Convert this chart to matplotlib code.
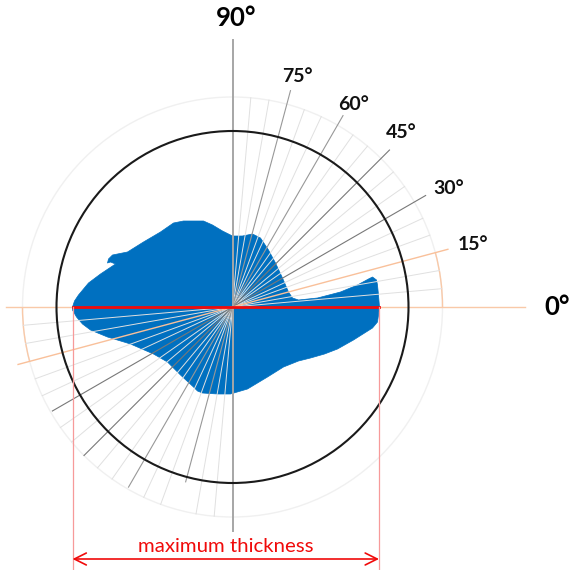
import numpy as np
import matplotlib
matplotlib.use("Agg")
import matplotlib.pyplot as plt
from matplotlib.patches import Polygon, Arc, Circle

plt.rcParams['font.family'] = ['Lato', 'DejaVu Sans']

# Section outline in px, relative to the polar centre (x right, y up)
outline_x = [-160, -158, -154, -144, -132, -117, -122, -125, -124, -120, -115, -105, -89, -72, -59, -49, -39, -29, -20, -10,
             0, 10, 20, 28, 36, 43, 50, 56, 60, 66, 85, 108, 125, 136, 140, 144, 145, 146, 147,
             146, 145, 140, 121, 105, 92, 78, 66, 51, 35, 15, -2, -15, -30, -35, -39, -52, -65, -79, -102, -125, -142, -150, -156, -160]
outline_y = [0, 6, 12, 24, 33, 43, 45, 44, 48, 52, 53, 55, 65, 75, 84, 86, 86, 86, 82, 76,
             71, 71, 73, 69, 57, 44, 29, 15, 9, 7, 9, 15, 22, 28, 30, 27, 22, 12, 0,
             -8, -15, -21, -33, -42, -47, -51, -54, -60, -70, -82, -87, -87, -86, -84, -80, -68, -55, -47, -37, -30, -23, -17, -10, -3]

minor_angles = [5, 10, 20, 25, 35, 40, 50, 55, 65, 70, 80, 85]
labelled_angles = [30, 45, 60, 75]
labelled_greys = ['#787878', '#787878', '#989898', '#989898']
labelled_far_len = [223, 222, 221, 224]
labelled_near_len = [208, 210, 208, 181]
outer_r = 210
inner_r = 176
thick_left, thick_right = -160, 146.5
labels = ['75°', '60°', '45°', '30°', '15°']
label_x = [65, 121, 169, 216, 241]
label_y = [231, 203, 175, 119, 62]

fig = plt.figure(figsize=(5.7, 5.7), dpi=100)
ax = fig.add_axes([0, 0, 1, 1])
ax.set_xlim(-232.5, 337.5)
ax.set_ylim(-263, 307)
ax.axis('off')

def pol(angle, r):
    a = np.deg2rad(angle)
    return r * np.cos(a), r * np.sin(a)

ax.add_patch(Circle((0, 0), outer_r, fill=False, ec='#f0f0f0', lw=1.0, zorder=1))
ax.add_patch(Arc((0, 0), 2*outer_r, 2*outer_r, theta1=0, theta2=15, ec='#f9c9a8', lw=1.0, zorder=2))
ax.add_patch(Arc((0, 0), 2*outer_r, 2*outer_r, theta1=180, theta2=195, ec='#f9c9a8', lw=1.0, zorder=2))
ax.add_patch(Polygon(np.column_stack([outline_x, outline_y]), closed=True, fc='#0070c0', ec='#0070c0', lw=0.5,
                     joinstyle='round', zorder=3))

for ang in minor_angles:
    for a in (ang, ang + 180):
        x, y = pol(a, outer_r)
        ax.plot([0, x], [0, y], color='#e0e0e0', lw=0.7, zorder=4)
for ang, col, far, near in zip(labelled_angles, labelled_greys, labelled_far_len, labelled_near_len):
    x, y = pol(ang, far)
    ax.plot([0, x], [0, y], color=col, lw=0.8, zorder=4)
    x, y = pol(ang + 180, near)
    ax.plot([0, x], [0, y], color=col, lw=0.8, zorder=4)
x, y = pol(15, 223)
ax.plot([0, x], [0, y], color='#f9c09a', lw=1.0, zorder=4)
x, y = pol(195, 222)
ax.plot([0, x], [0, y], color='#f9c09a', lw=1.0, zorder=4)

ax.plot([-227, 292.5], [0, 0], color='#f9c9a8', lw=1.0, zorder=2)
ax.plot([0, 0], [267, -224], color='#a6a6a6', lw=1.4, zorder=5)
ax.add_patch(Circle((0, 0), inner_r, fill=False, ec='#1a1a1a', lw=1.5, zorder=5))

ax.plot([thick_left, thick_right], [0, 0], color='#f00a0a', lw=2.0, zorder=6)
for xv in (thick_left, thick_right):
    ax.plot([xv, xv], [0, -263], color='#f79a9a', lw=0.9, zorder=6)
ax.annotate('', xy=(thick_left, -252), xytext=(thick_right, -252),
            arrowprops=dict(arrowstyle='<->,head_width=0.43,head_length=0.86', color='#f00a0a', lw=1.2,
                            shrinkA=0, shrinkB=0, mutation_scale=10), zorder=7)
ax.text(-7, -239, 'maximum thickness', color='#f00a0a', fontsize=14.7, ha='center', va='center', zorder=7)

for s, px, py in zip(labels, label_x, label_y):
    ax.text(px, py, s, color='#111111', fontsize=14, fontweight='bold', ha='center', va='center')
ax.text(3.5, 289, '90°', color='black', fontsize=18.5, fontweight='bold', ha='center', va='center')
ax.text(325, 0, '0°', color='black', fontsize=18.5, fontweight='bold', ha='center', va='center')

fig.savefig('out.png', dpi=100)
